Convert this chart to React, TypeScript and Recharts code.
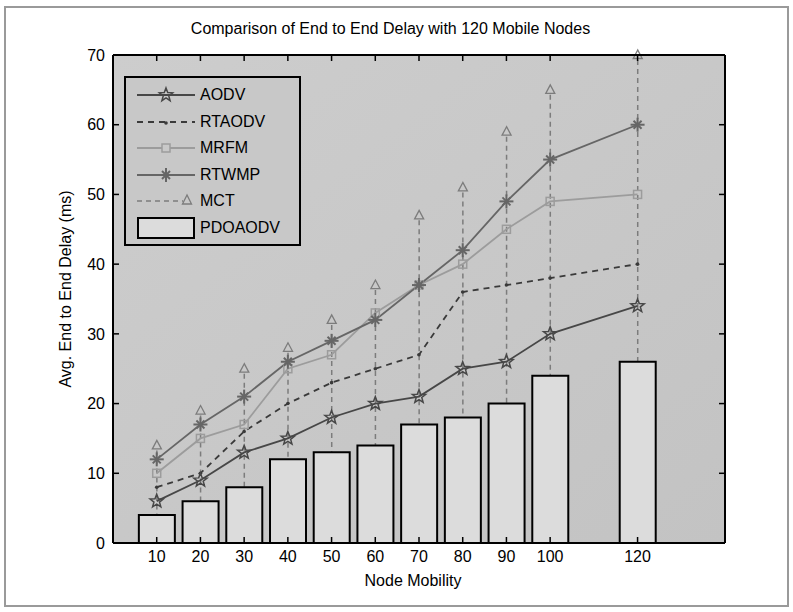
import React from "react"
import {
  ComposedChart,
  Bar,
  Line,
  XAxis,
  YAxis,
  CartesianGrid,
  Label,
} from "recharts"

// values
const mobility = [10, 20, 30, 40, 50, 60, 70, 80, 90, 100, 120]
const aodv = [6, 9, 13, 15, 18, 20, 21, 25, 26, 30, 34]
const rtaodv = [8, 10, 16, 20, 23, 25, 27, 36, 37, 38, 40]
const mrfm = [10, 15, 17, 25, 27, 33, 37, 40, 45, 49, 50]
const rtwmp = [12, 17, 21, 26, 29, 32, 37, 42, 49, 55, 60]
const mct = [14, 19, 25, 28, 32, 37, 47, 51, 59, 65, 70]
const pdoaodv = [4, 6, 8, 12, 13, 14, 17, 18, 20, 24, 26]

const xTicks = [10, 20, 30, 40, 50, 60, 70, 80, 90, 100, 120]
const yTicks = [0, 10, 20, 30, 40, 50, 60, 70]

const rows = mobility.map((m, i) => ({
  m,
  aodv: aodv[i],
  rtaodv: rtaodv[i],
  mrfm: mrfm[i],
  rtwmp: rtwmp[i],
  mct: mct[i],
  pdoaodv: pdoaodv[i],
}))

const FONT = "'Liberation Sans', Arial, sans-serif"
const C_AODV = "#474747"
const C_RTAODV = "#3a3a3a"
const C_MRFM = "#9c9c9c"
const C_RTWMP = "#666666"
const C_MCT = "#7c7c7c"
const BG = "#c8c8c8"
const BAR = "#dcdcdc"

function star(cx: number, cy: number, r: number) {
  const pts: string[] = []
  for (let k = 0; k < 10; k++) {
    const a = -Math.PI / 2 + (k * Math.PI) / 5
    const rr = k % 2 === 0 ? r : r * 0.42
    pts.push(`${cx + rr * Math.cos(a)},${cy + rr * Math.sin(a)}`)
  }
  return pts.join(" ")
}

const StarDot = (p: any) => (
  <polygon key={p.index} points={star(p.cx, p.cy, 7)} fill="none" stroke={C_AODV} strokeWidth={1.5} />
)
const PointDot = (p: any) => <circle key={p.index} cx={p.cx} cy={p.cy} r={1.8} fill={C_RTAODV} />
const SquareDot = (p: any) => (
  <rect key={p.index} x={p.cx - 4} y={p.cy - 4} width={8} height={8} fill="none" stroke={C_MRFM} strokeWidth={1.5} />
)
const AsteriskDot = (p: any) => (
  <g key={p.index} stroke={C_RTWMP} strokeWidth={2}>
    <line x1={p.cx - 7} y1={p.cy} x2={p.cx + 7} y2={p.cy} />
    <line x1={p.cx} y1={p.cy - 7} x2={p.cx} y2={p.cy + 7} />
    <line x1={p.cx - 4} y1={p.cy - 4} x2={p.cx + 4} y2={p.cy + 4} />
    <line x1={p.cx - 4} y1={p.cy + 4} x2={p.cx + 4} y2={p.cy - 4} />
  </g>
)

// MCT is drawn as a dashed stem from the axis up to a triangle
const MctStem = (p: any) => {
  const cx = p.x + p.width / 2
  const top = p.y
  return (
    <g>
      <line x1={cx} y1={top + 5} x2={cx} y2={p.y + p.height} stroke={C_MCT} strokeWidth={1.5} strokeDasharray="5 4" />
      <polygon
        points={`${cx},${top - 5} ${cx - 4.5},${top + 3.5} ${cx + 4.5},${top + 3.5}`}
        fill="none"
        stroke={C_MCT}
        strokeWidth={1.3}
      />
    </g>
  )
}

const YLabel = (props: any) => {
  const vb = props.viewBox
  return (
    <text
      x={65}
      y={vb.y + vb.height / 2 - 10}
      transform={`rotate(-90 65 ${vb.y + vb.height / 2 - 10})`}
      textAnchor="middle"
      dominantBaseline="central"
      fontFamily={FONT}
      fontSize={16}
      fill="#000"
    >
      Avg. End to End Delay (ms)
    </text>
  )
}

const legendItems = [
  { name: "AODV", kind: "aodv" },
  { name: "RTAODV", kind: "rtaodv" },
  { name: "MRFM", kind: "mrfm" },
  { name: "RTWMP", kind: "rtwmp" },
  { name: "MCT", kind: "mct" },
  { name: "PDOAODV", kind: "bar" },
]

function LegendSample({ kind }: { kind: string }) {
  const w = 58
  const h = 22
  const cy = h / 2
  const cx = w / 2
  if (kind === "bar")
    return (
      <svg width={w} height={h}>
        <rect x={1} y={1} width={w - 2} height={h - 2} fill={BAR} stroke="#000" strokeWidth={2} />
      </svg>
    )
  return (
    <svg width={w} height={h}>
      {kind === "aodv" && (
        <>
          <line x1={0} y1={cy} x2={w} y2={cy} stroke={C_AODV} strokeWidth={1.8} />
          <polygon points={star(cx, cy, 7)} fill="none" stroke={C_AODV} strokeWidth={1.5} />
        </>
      )}
      {kind === "rtaodv" && (
        <>
          <line x1={0} y1={cy} x2={w} y2={cy} stroke={C_RTAODV} strokeWidth={1.8} strokeDasharray="6 5" />
          <circle cx={cx} cy={cy + 1} r={1.8} fill={C_RTAODV} />
        </>
      )}
      {kind === "mrfm" && (
        <>
          <line x1={0} y1={cy} x2={w} y2={cy} stroke={C_MRFM} strokeWidth={1.8} />
          <rect x={cx - 4} y={cy - 4} width={8} height={8} fill={BG} stroke={C_MRFM} strokeWidth={1.5} />
        </>
      )}
      {kind === "rtwmp" && (
        <>
          <line x1={0} y1={cy} x2={w} y2={cy} stroke={C_RTWMP} strokeWidth={1.8} />
          <line x1={cx} y1={cy - 7} x2={cx} y2={cy + 7} stroke={C_RTWMP} strokeWidth={2} />
          <line x1={cx - 4} y1={cy - 4} x2={cx + 4} y2={cy + 4} stroke={C_RTWMP} strokeWidth={2} />
          <line x1={cx - 4} y1={cy + 4} x2={cx + 4} y2={cy - 4} stroke={C_RTWMP} strokeWidth={2} />
        </>
      )}
      {kind === "mct" && (
        <>
          <line x1={0} y1={cy} x2={w - 12} y2={cy} stroke={C_MCT} strokeWidth={1.5} strokeDasharray="5 4" />
          <polygon
            points={`${w - 8},${cy - 6} ${w - 12.5},${cy + 3} ${w - 3.5},${cy + 3}`}
            fill="none"
            stroke={C_MCT}
            strokeWidth={1.3}
          />
        </>
      )}
    </svg>
  )
}

const tickStyle = { fontSize: 16, fill: "#000", fontFamily: FONT }
const noLabel = () => ""

export default function App() {
  return (
    <div style={{ position: "absolute", left: 0, top: 0, width: 793, height: 612, background: "#fff", fontFamily: FONT }}>
      <div
        style={{
          position: "absolute",
          left: 4,
          top: 6,
          width: 781,
          height: 597,
          border: "2px solid #9a9a9a",
        }}
      />
      <div
        style={{
          position: "absolute",
          left: 0,
          width: 793,
          top: 20,
          textAlign: "center",
          fontSize: 16,
          color: "#000",
          paddingLeft: 0,
        }}
      >
        <span style={{ position: "relative", left: -6 }}>Comparison of End to End Delay with 120 Mobile Nodes</span>
      </div>

      <div style={{ position: "absolute", left: 0, top: 0 }}>
        <ComposedChart width={793} height={612} data={rows} margin={{ top: 25, right: 8, bottom: 0, left: 40 }}>
          <defs>
            <linearGradient id="bgGrad" x1="0" y1="0" x2="1" y2="1">
              <stop offset="0%" stopColor="#cdcdcd" />
              <stop offset="100%" stopColor="#c3c3c3" />
            </linearGradient>
          </defs>
          <CartesianGrid horizontal={false} vertical={false} fill="url(#bgGrad)" />
          <XAxis
            dataKey="m"
            type="number"
            domain={[0, 140]}
            ticks={xTicks}
            interval={0}
            height={69}
            tickSize={-6}
            tickMargin={14}
            tick={tickStyle}
            axisLine={{ stroke: "#000", strokeWidth: 2 }}
            tickLine={{ stroke: "#000", strokeWidth: 1.5 }}
          >
            <Label value="Node Mobility" position="insideBottom" offset={26} dx={-6} style={{ fontSize: 16, fill: "#000", fontFamily: FONT }} />
          </XAxis>
          <XAxis
            xAxisId="top"
            orientation="top"
            dataKey="m"
            type="number"
            domain={[0, 140]}
            ticks={xTicks}
            interval={0}
            height={30}
            tickSize={-6}
            tickFormatter={noLabel}
            axisLine={{ stroke: "#000", strokeWidth: 2 }}
            tickLine={{ stroke: "#000", strokeWidth: 1.5 }}
          />
          <YAxis
            type="number"
            domain={[0, 70]}
            ticks={yTicks}
            interval={0}
            width={73}
            tickSize={-6}
            tickMargin={14}
            tick={tickStyle}
            axisLine={{ stroke: "#000", strokeWidth: 2 }}
            tickLine={{ stroke: "#000", strokeWidth: 1.5 }}
          >
            <Label content={YLabel} />
          </YAxis>
          <YAxis
            yAxisId="right"
            orientation="right"
            type="number"
            domain={[0, 70]}
            ticks={yTicks}
            interval={0}
            width={60}
            tickSize={-6}
            tickFormatter={noLabel}
            axisLine={{ stroke: "#000", strokeWidth: 2 }}
            tickLine={{ stroke: "#000", strokeWidth: 1.5 }}
          />

          <Bar dataKey="mct" xAxisId="top" yAxisId="right" barSize={10} shape={MctStem} isAnimationActive={false} />
          <Bar dataKey="pdoaodv" barSize={36} fill={BAR} stroke="#000" strokeWidth={2} isAnimationActive={false} />

          <Line dataKey="rtaodv" stroke={C_RTAODV} strokeWidth={1.8} strokeDasharray="6 5" dot={PointDot} activeDot={false} isAnimationActive={false} />
          <Line dataKey="mrfm" stroke={C_MRFM} strokeWidth={1.8} dot={SquareDot} activeDot={false} isAnimationActive={false} />
          <Line dataKey="rtwmp" stroke={C_RTWMP} strokeWidth={1.8} dot={AsteriskDot} activeDot={false} isAnimationActive={false} />
          <Line dataKey="aodv" stroke={C_AODV} strokeWidth={1.8} dot={StarDot} activeDot={false} isAnimationActive={false} />
        </ComposedChart>
      </div>

      <div
        style={{
          position: "absolute",
          left: 124,
          top: 76,
          width: 173,
          height: 162,
          border: "2px solid #000",
          background: BG,
          paddingTop: 4,
          boxSizing: "content-box",
        }}
      >
        {legendItems.map((it) => (
          <div key={it.name} style={{ display: "flex", alignItems: "center", height: 26.5, paddingLeft: 11 }}>
            <LegendSample kind={it.kind} />
            <span style={{ marginLeft: 5, fontSize: 16, color: "#000" }}>{it.name}</span>
          </div>
        ))}
      </div>
    </div>
  )
}
